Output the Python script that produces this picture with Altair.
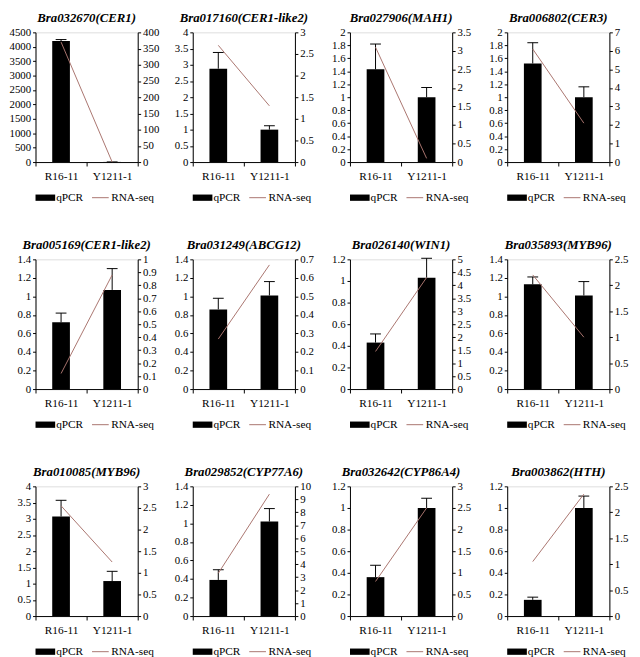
import altair as alt
import pandas as pd

titles = ["Bra032670(CER1)", "Bra017160(CER1-like2)", "Bra027906(MAH1)", "Bra006802(CER3)",
          "Bra005169(CER1-like2)", "Bra031249(ABCG12)", "Bra026140(WIN1)", "Bra035893(MYB96)",
          "Bra010085(MYB96)", "Bra029852(CYP77A6)", "Bra032642(CYP86A4)", "Bra003862(HTH)"]
samples = ["R16-11", "Y1211-1"]
series = ["qPCR", "RNA-seq"]

qpcr = [[4200, 5], [2.88, 1.0], [1.43, 1.0], [1.52, 1.0],
        [0.72, 1.07], [0.86, 1.01], [0.43, 1.03], [1.13, 1.01],
        [3.07, 1.08], [0.39, 1.02], [0.36, 1.0], [0.15, 1.0]]
qpcr_err = [[50, 0], [0.5, 0.12], [0.39, 0.15], [0.32, 0.16],
            [0.1, 0.23], [0.12, 0.15], [0.08, 0.18], [0.08, 0.15],
            [0.5, 0.3], [0.11, 0.14], [0.11, 0.09], [0.025, 0.11]]
rnaseq = [[370, 0], [2.7, 1.3], [3.1, 0.1], [6.1, 2.1],
          [0.12, 0.88], [0.27, 0.67], [1.45, 4.3], [2.2, 1.0],
          [2.55, 1.25], [3.3, 9.4], [0.8, 2.5], [1.05, 2.35]]

left_max = [4500, 4, 2, 2, 1.4, 1.4, 1.2, 1.4, 4, 1.4, 1.2, 1.2]
left_step = [500, 0.5, 0.2, 0.2, 0.2, 0.2, 0.2, 0.2, 0.5, 0.2, 0.2, 0.2]
right_max = [400, 3, 3.5, 7, 1, 0.7, 5, 2.5, 3, 10, 3, 2.5]
right_step = [50, 0.5, 0.5, 1, 0.1, 0.1, 0.5, 0.5, 0.5, 1, 0.5, 0.5]

LINE = "#a9746e"
FONT = "Times New Roman, Liberation Serif, serif"
RECT = "M-1,-0.32H1V0.32H-1Z"
STROKE = "M-0.85,-0.05H0.85V0.05H-0.85Z"


def ticks(mx, st):
    n = int(round(mx / st))
    return [round(k * st, 4) for k in range(n + 1)]


def y_axis(side, vals, ext):
    return alt.Axis(title=None, orient=side, values=vals, format="~f", grid=False,
                    tickSize=3, labelPadding=2, labelOverlap=False, labelFlush=False,
                    labelFont=FONT, labelFontSize=11, labelColor="black",
                    domainColor="black", tickColor="black",
                    minExtent=ext, maxExtent=ext)


def panel(i):
    bar_df = pd.DataFrame({
        "sample": samples,
        "value": qpcr[i],
        "upper": [v + e for v, e in zip(qpcr[i], qpcr_err[i])],
    })
    line_df = pd.DataFrame({"sample": samples, "value": rnaseq[i]})
    key_df = pd.DataFrame({"series": series})

    x = alt.X("sample:N", sort=samples,
              scale=alt.Scale(paddingInner=0, paddingOuter=0),
              axis=alt.Axis(title=None, labelAngle=0, tickBand="extent", tickSize=4,
                            labelPadding=5, labelFont=FONT, labelFontSize=11.5,
                            domainColor="black", tickColor="black", labelColor="black"))
    yl_scale = alt.Scale(domain=[0, left_max[i]], nice=False, zero=True)
    yl_axis = y_axis("left", ticks(left_max[i], left_step[i]), 26)

    bars = alt.Chart(bar_df).mark_bar(size=18, color="black").encode(
        x=x, y=alt.Y("value:Q", scale=yl_scale, axis=yl_axis))
    err = alt.Chart(bar_df).mark_rule(color="black", strokeWidth=1).encode(
        x=x, y=alt.Y("value:Q", scale=yl_scale, axis=yl_axis), y2="upper:Q")
    cap = alt.Chart(bar_df).mark_tick(color="black", size=11, thickness=1, opacity=1).encode(
        x=x, y=alt.Y("upper:Q", scale=yl_scale, axis=yl_axis))
    left = alt.layer(bars, err, cap)

    line = alt.Chart(line_df).mark_line(strokeWidth=1, color=LINE).encode(
        x=x,
        y=alt.Y("value:Q", scale=alt.Scale(domain=[0, right_max[i]], nice=False),
                axis=y_axis("right", ticks(right_max[i], right_step[i]), 22)))

    legend = alt.Legend(title=None, orient="bottom", direction="horizontal",
                        labelFont=FONT, labelFontSize=11.5, labelColor="black", labelOffset=1,
                        columnPadding=7, symbolSize=400, symbolStrokeWidth=0, offset=5)
    key = alt.Chart(key_df).transform_filter("false").mark_point(
        filled=True, size=400, opacity=1).encode(
        color=alt.Color("series:N", scale=alt.Scale(domain=series, range=["black", LINE]),
                        legend=legend),
        shape=alt.Shape("series:N", scale=alt.Scale(domain=series, range=[RECT, STROKE]),
                        legend=legend),
    )

    return alt.layer(left, line, key).resolve_scale(y="independent").properties(
        width=104, height=132,
        title=alt.TitleParams(titles[i], font=FONT, fontSize=13, fontWeight="bold",
                              fontStyle="italic", anchor="middle", offset=2, color="black"))


chart = alt.concat(*[panel(i) for i in range(12)], columns=4,
                   spacing={"row": 34, "column": 6}).resolve_scale(
    color="independent", shape="independent").resolve_legend(
    color="independent", shape="independent").properties(
    padding={"left": 0, "right": 0, "top": -3, "bottom": 0}
).configure_view(stroke=None).configure_axis(labelOverlap=False).configure(
    background="white")

chart.save("out.html", embed_options={"renderer": "svg", "actions": False})
